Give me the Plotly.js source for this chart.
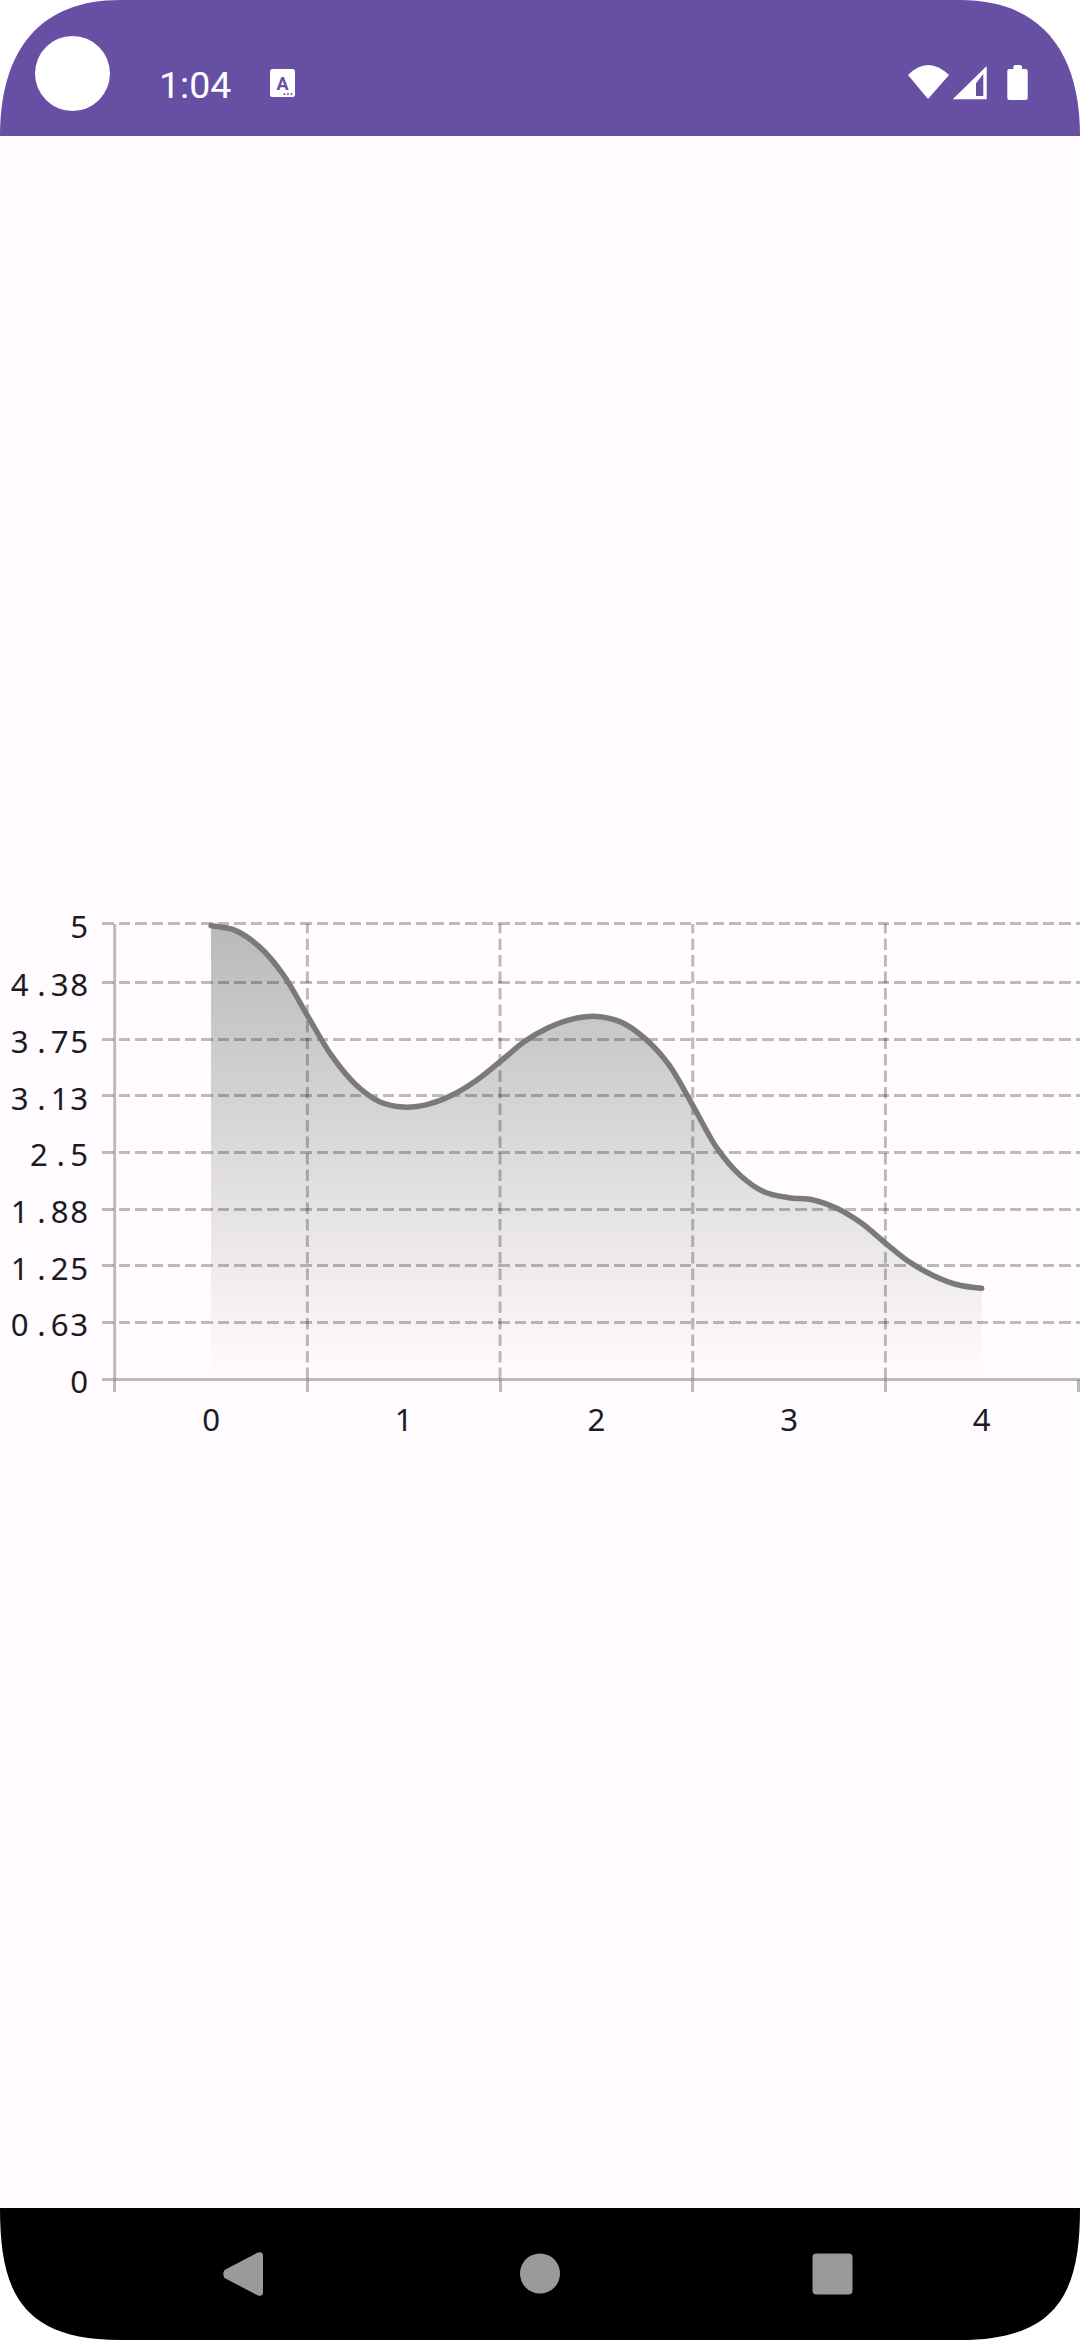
<!DOCTYPE html>
<html><head><meta charset="utf-8">
<script src="https://cdn.plot.ly/plotly-3.0.0.min.js"></script>
<style>
html,body{margin:0;padding:0;width:1080px;height:2340px;background:#fff;overflow:hidden}
#chrome,#plot{position:absolute;left:0;top:0;width:1080px;height:2340px}
.js-line{stroke-linecap:round}
.ytick text{letter-spacing:1.45px}
</style></head><body>
<svg id="chrome" viewBox="0 0 1080 2340" xmlns="http://www.w3.org/2000/svg">
<path d="M0,136 H1080 V2208 H0Z" fill="#FFFBFE"/>
<path d="M0,136 C0,50 40,0 120,0 H960 C1040,0 1080,50 1080,136Z" fill="#6750A4"/>
<path d="M0,2208 H1080 C1080,2290 1060,2340 960,2340 H120 C20,2340 0,2290 0,2208Z" fill="#000"/>
<circle cx="72.5" cy="73.5" r="37.5" fill="#fff"/>
<text x="159" y="98" font-family="Roboto" font-size="37.5" fill="#fff">1:04</text>
<rect x="270" y="69" width="25" height="28" rx="2.5" fill="#fff"/>
<text x="282.5" y="90" font-family="Roboto" font-weight="700" font-size="18" fill="#6750A4" text-anchor="middle">A</text>
<circle cx="284.5" cy="94" r="1" fill="#6750A4"/><circle cx="288" cy="94" r="1" fill="#6750A4"/><circle cx="291.5" cy="94" r="1" fill="#6750A4"/>
<path d="M908,75 Q928,55 949,75 L928,99Z" fill="#fff"/>
<path d="M952.7,99.3 L986.7,66 V99.3Z M976,83.3 V96 H983.3 V74Z" fill="#fff" fill-rule="evenodd"/>
<path d="M1013.3,69 V67 Q1013.3,65 1015.3,65 H1020 Q1022,65 1022,67 V69 H1025.7 Q1027.7,69 1027.7,71 V98 Q1027.7,100 1025.7,100 H1009.3 Q1007.3,100 1007.3,98 V71 Q1007.3,69 1009.3,69Z" fill="#fff"/>
<path d="M224.5,2270 L258,2252.5 Q263,2251 263,2256 V2292 Q263,2297 258,2295.5 L224.5,2278 Q222,2274 224.5,2270Z" fill="#9a9a9a"/>
<circle cx="540" cy="2273.5" r="20" fill="#9a9a9a"/>
<rect x="812.5" y="2253.5" width="40" height="41" rx="4" fill="#9a9a9a"/>
</svg>
<div id="plot"></div>
<script>
const xLabels = ['0','1','2','3','4'];
const xLabelVals = [0,1,2,3,4];
const xTickVals = [-0.5,0.5,1.5,2.5,3.5,4.5];
const xGridVals = [0.5,1.5,2.5,3.5];
const yTickVals = [0,0.625,1.25,1.875,2.5,3.125,3.75,4.375,5.02];
const yTickText = ['0','0.63','1.25','1.88','2.5','3.13','3.75','4.38','5'];
const curveX = [0,0.125,0.25,0.375,0.5,0.625,0.75,0.875,1,
  1.125,1.25,1.375,1.5,1.625,1.75,1.875,2,
  2.125,2.25,2.375,2.5,2.625,2.75,2.875,3,
  3.125,3.25,3.375,3.5,3.625,3.75,3.875,4];
const curveY = [5,4.95,4.77,4.46,4.01,3.57,3.25,3.06,3,
  3.03,3.13,3.29,3.5,3.72,3.875,3.97,4,
  3.94,3.76,3.47,3.02,2.55,2.24,2.06,2,
  1.975,1.88,1.72,1.5,1.29,1.14,1.04,1];

const gridColor='rgba(0,0,0,0.26)';
const fontFam='"Noto Sans", sans-serif';
const gridDash='11.5px,5px';
const shapes = xGridVals.map(v=>({type:'line',xref:'x',yref:'y',x0:v,x1:v,y0:0,y1:5.02,layer:'below',
  line:{color:gridColor,width:3,dash:gridDash}}));
shapes.push({type:'line',xref:'x',yref:'y',x0:-0.5,x1:-0.5,y0:0,y1:5.02,layer:'below',line:{color:gridColor,width:3}});

Plotly.newPlot('plot',[{
  x:curveX,y:curveY,type:'scatter',mode:'lines',
  line:{color:'#7a7a7a',width:5.5,shape:'spline',smoothing:0.9},
  fill:'tozeroy',
  fillgradient:{type:'vertical',start:5,stop:0,
    colorscale:[[0,'rgba(28,30,28,0.3)'],[1,'rgba(28,30,28,0)']]},
  hoverinfo:'skip',showlegend:false
}],{
  width:1080,height:2340,
  paper_bgcolor:'rgba(0,0,0,0)',plot_bgcolor:'rgba(0,0,0,0)',
  margin:{l:102,r:0,t:922.3,b:2340-1379.3,pad:0},
  showlegend:false,shapes,
  xaxis:{type:'linear',range:[-0.566,4.51],tickmode:'array',tickvals:xLabelVals,ticktext:xLabels,
    showgrid:false,zeroline:false,showline:false,ticks:'',ticklabelstandoff:20,
    tickfont:{family:fontFam,size:31.2,color:'#1c1b1f'},
    minor:{tickmode:'array',tickvals:xTickVals,ticks:'outside',ticklen:12,tickwidth:3,tickcolor:gridColor,showgrid:false}},
  yaxis:{range:[0,5.042],anchor:'free',position:(114.7-102)/978,tickmode:'array',tickvals:yTickVals,ticktext:yTickText,
    showgrid:true,gridcolor:gridColor,gridwidth:3,griddash:gridDash,
    zeroline:true,zerolinecolor:gridColor,zerolinewidth:3,
    showline:false,ticks:'outside',ticklen:19,tickcolor:'rgba(0,0,0,0)',ticklabelshift:3,
    tickfont:{family:fontFam,size:31.2,color:'#1c1b1f'}}
},{staticPlot:true,displayModeBar:false}).then(()=>{
  document.querySelectorAll('.ytick text').forEach(t=>{
    const s=t.textContent, i=s.indexOf('.');
    if(i<0) return;
    const ns='http://www.w3.org/2000/svg';
    t.textContent='';
    [[s.slice(0,i),0],['.',7.2],[s.slice(i+1),3.8]].forEach(([c,dx])=>{
      const sp=document.createElementNS(ns,'tspan');
      if(dx) sp.setAttribute('dx',dx);
      sp.textContent=c; t.appendChild(sp);
    });
  });
});
</script>
</body></html>
